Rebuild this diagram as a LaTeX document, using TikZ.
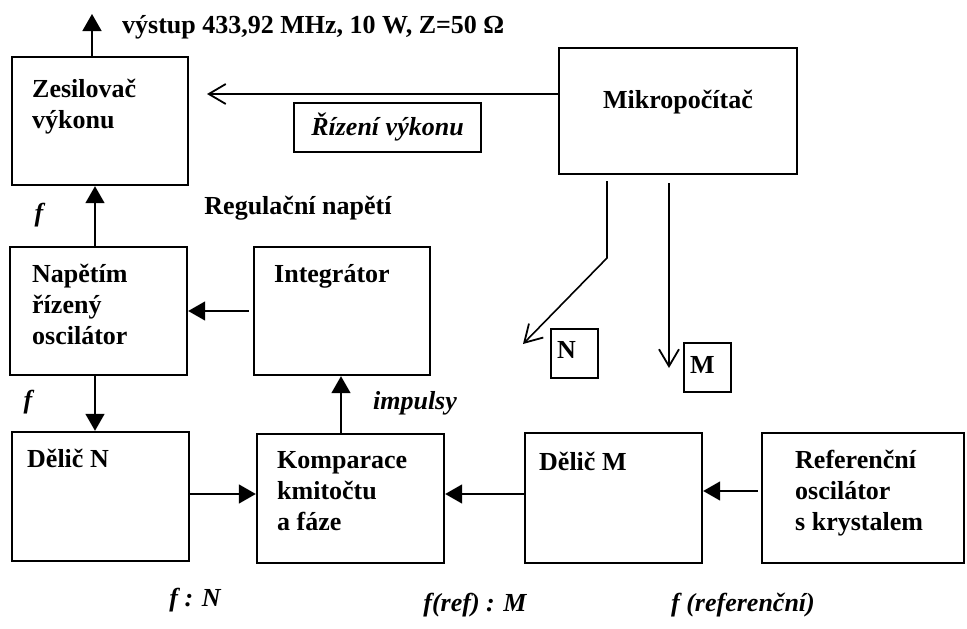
\documentclass[tikz,border=0pt]{standalone}
\usepackage{fontspec}
\setmainfont{Liberation Serif}
\usetikzlibrary{arrows.meta}
\begin{document}
\begin{tikzpicture}[x=1pt,y=-1pt,
  blk/.style={draw, line width=2.4pt, inner sep=0pt, minimum width=#1},
  lbl/.style={font=\fontsize{26}{31}\selectfont\bfseries, inner sep=0pt, anchor=base west},
  ilbl/.style={font=\fontsize{26}{31}\selectfont\bfseries\itshape, inner sep=0pt},
  conn/.style={line width=1.6pt, -{Triangle[length=17pt,width=19pt]}},
  oconn/.style={line width=1.6pt, -{Straight Barb[length=17pt,width=20pt,line width=1.8pt]}}
]
\useasboundingbox (0,0) rectangle (967,629);
\newcommand\stk[1]{\begin{tabular}[t]{@{}l@{}}#1\end{tabular}}
% boxes
\node[blk=176pt, minimum height=128pt] (zes) at (100,121) {};
\node[blk=177pt, minimum height=128pt] (vco) at (98.5,311) {};
\node[blk=176pt, minimum height=128pt] (int) at (342,311) {};
\node[blk=177pt, minimum height=129pt] (dn) at (100.5,496.5) {};
\node[blk=187pt, minimum height=129pt] (kmp) at (350.5,498.5) {};
\node[blk=177pt, minimum height=130pt] (dm) at (613.5,498) {};
\node[blk=202pt, minimum height=130pt] (ref) at (863,498) {};
\node[blk=238pt, minimum height=126pt] (mik) at (678,111) {};
\node[blk=187pt, minimum height=49pt, font=\fontsize{26}{31}\selectfont\bfseries\itshape] (riz) at (387.5,127.5) {Řízení výkonu};
\node[blk=47pt, minimum height=49pt] (nbox) at (574.5,353.5) {};
\node[blk=47pt, minimum height=49pt] (mbox) at (707.5,367.5) {};
% texts in boxes
\node[lbl] (zest) at (32,97) {\stk{Zesilovač\\výkonu}};
\node[lbl] (vcot) at (32,282) {\stk{Napětím\\řízený\\oscilátor}};
\node[lbl] (intt) at (274,282) {Integrátor};
\node[lbl] (dnt) at (27,467) {Dělič N};
\node[lbl] (kmpt) at (277,468) {\stk{Komparace\\kmitočtu\\a fáze}};
\node[lbl] (dmt) at (539,470) {Dělič M};
\node[lbl] (reft) at (795,468) {\stk{Referenční\\oscilátor\\s krystalem}};
\node[lbl, anchor=base] (mikt) at (678,108) {Mikropočítač};
\node[lbl] (nt) at (557,358) {N};
\node[lbl] (mt) at (690,373) {M};
% free labels
\node[lbl] (out) at (122,33) {výstup 433,92 MHz, 10 W, Z=50 Ω};
\node[lbl, anchor=center] (reg) at (298,208) {Regulační napětí};
\node[ilbl] (f1) at (39,215) {f};
\node[ilbl] (f2) at (28,402) {f};
\node[ilbl] (imp) at (415,403) {impulsy};
\node[ilbl] (fn) at (195,600) {f : N};
\node[ilbl] (frm) at (475,605) {f(ref) : M};
\node[ilbl] (fref) at (743,605) {f (referenční)};
% connectors
\coordinate (outtip) at (92,14);
\draw[conn] (zes.north -| outtip) -- (outtip);
\draw[conn] (vco.north -| 95,0) -- (zes.south -| 95,0);
\draw[conn] ([xshift=-4pt]int.west) -- (vco.east |- int.west);
\draw[conn] (vco.south -| 95,0) -- (dn.north -| 95,0);
\draw[conn] (kmp.north -| 341,0) -- (int.south -| 341,0);
\draw[conn] (dn.east |- 0,494) -- (kmp.west |- 0,494);
\draw[conn] (dm.west |- 0,494) -- (kmp.east |- 0,494);
\draw[conn] ([xshift=-3pt]ref.west |- 0,491) -- (dm.east |- 0,491);
\coordinate (riztip) at (207,94);
\draw[oconn] (mik.west |- riztip) -- (riztip);
\coordinate (ns) at (607,181);
\coordinate (nb) at (607,258);
\coordinate (nt2) at (523,344);
\draw[oconn] (ns) -- (nb) -- (nt2);
\coordinate (ms) at (669,183);
\coordinate (mtip) at (669,368);
\draw[oconn] (ms) -- (mtip);
\end{tikzpicture}
\end{document}
